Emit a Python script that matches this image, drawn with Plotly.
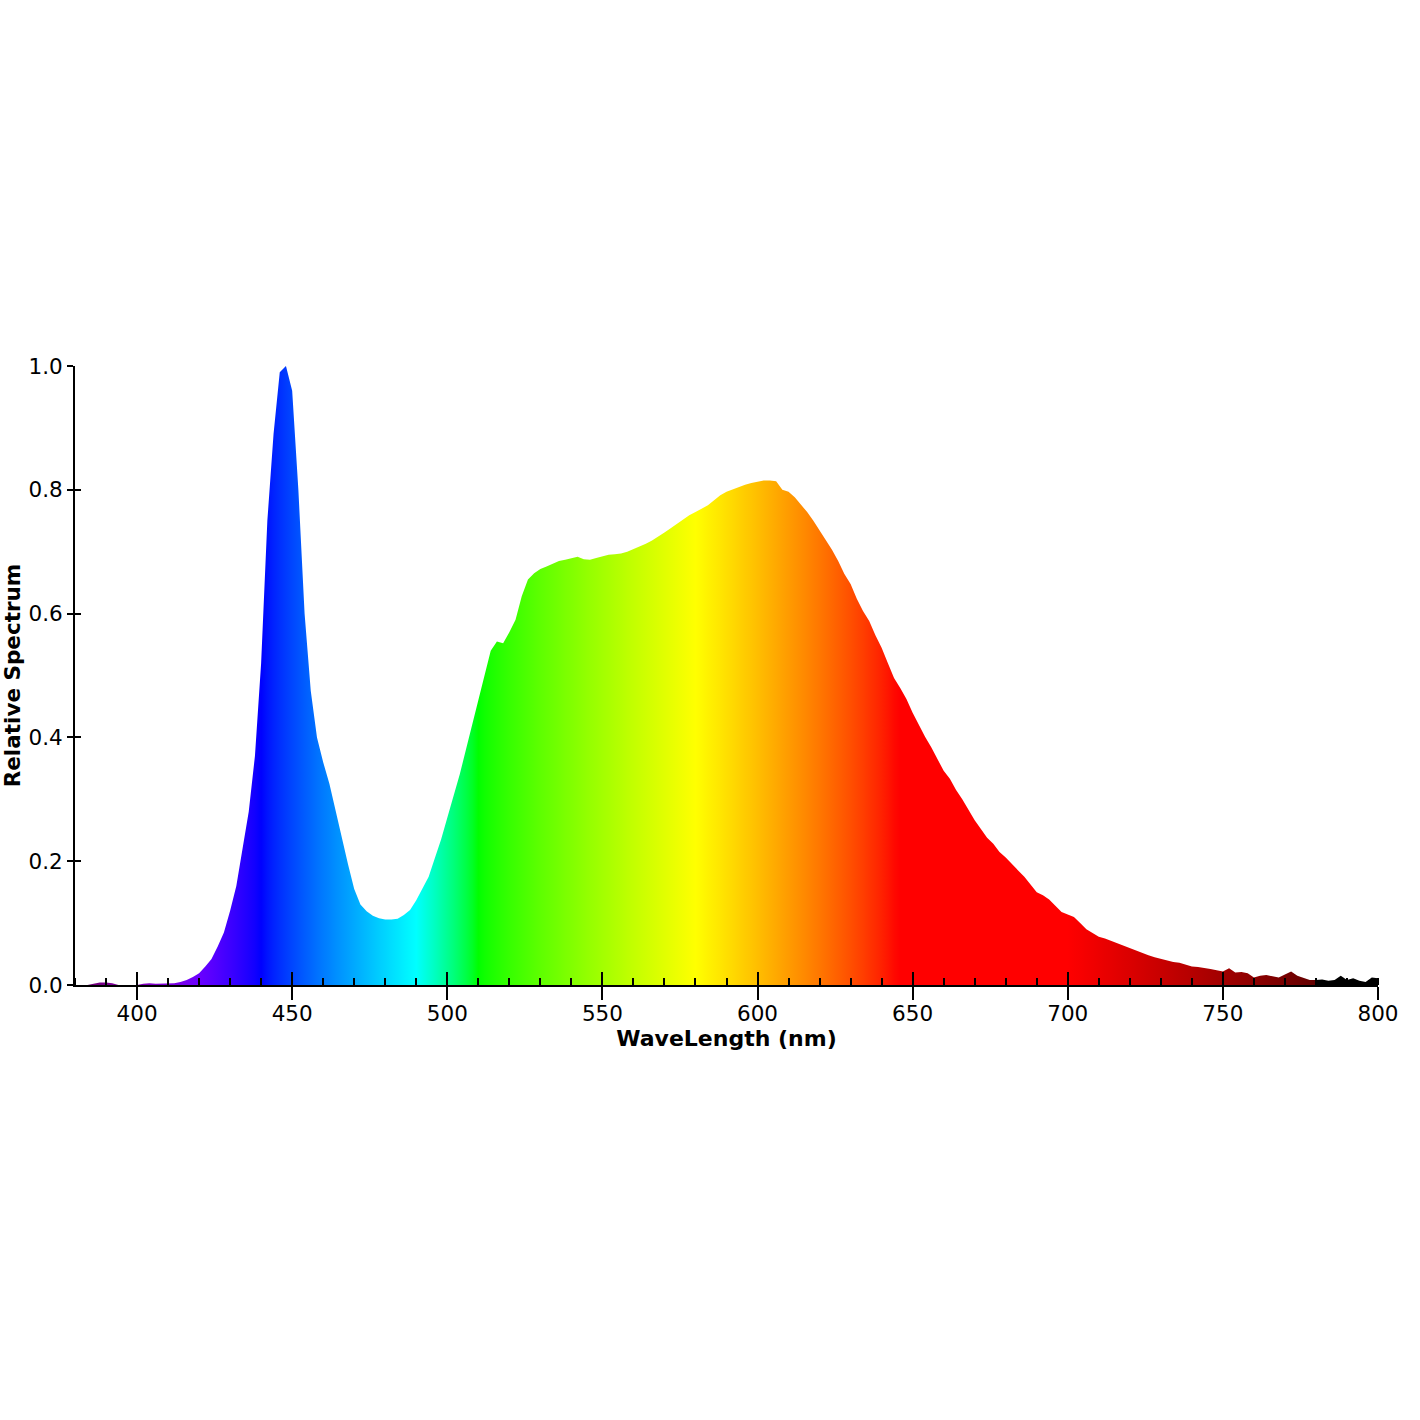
import plotly.graph_objects as go

# ---- data ----
wavelength = list(range(380, 802, 2))
relative_spectrum = [
    0.000, 0.000, 0.000, 0.002, 0.004, 0.004, 0.003, 0.000, 0.000, 0.000,  # 380-398
    0.000, 0.002, 0.003, 0.002, 0.002, 0.002, 0.003, 0.005, 0.008, 0.013,  # 400-418
    0.019, 0.030, 0.042, 0.062, 0.085, 0.120, 0.160, 0.220, 0.280, 0.370,  # 420-438
    0.520, 0.750, 0.890, 0.990, 1.000, 0.960, 0.800, 0.600, 0.475, 0.400,  # 440-458
    0.360, 0.325, 0.280, 0.240, 0.195, 0.155, 0.130, 0.119, 0.112, 0.108,  # 460-478
    0.106, 0.106, 0.107, 0.113, 0.121, 0.137, 0.155, 0.175, 0.205, 0.235,  # 480-498
    0.270, 0.305, 0.340, 0.380, 0.420, 0.460, 0.500, 0.540, 0.555, 0.552,  # 500-518
    0.570, 0.590, 0.628, 0.655, 0.665, 0.672, 0.676, 0.680, 0.685, 0.687,  # 520-538
    0.690, 0.692, 0.688, 0.687, 0.690, 0.693, 0.695, 0.696, 0.697, 0.700,  # 540-558
    0.704, 0.708, 0.713, 0.718, 0.724, 0.731, 0.738, 0.745, 0.752, 0.759,  # 560-578
    0.764, 0.769, 0.775, 0.783, 0.791, 0.797, 0.801, 0.805, 0.808, 0.811,  # 580-598
    0.813, 0.815, 0.815, 0.814, 0.800, 0.797, 0.788, 0.776, 0.764, 0.750,  # 600-618
    0.735, 0.718, 0.703, 0.685, 0.664, 0.648, 0.624, 0.604, 0.588, 0.565,  # 620-638
    0.545, 0.520, 0.496, 0.480, 0.462, 0.440, 0.420, 0.401, 0.384, 0.365,  # 640-658
    0.346, 0.333, 0.315, 0.300, 0.282, 0.266, 0.252, 0.238, 0.228, 0.215,  # 660-678
    0.206, 0.195, 0.185, 0.175, 0.162, 0.150, 0.145, 0.138, 0.128, 0.118,  # 680-698
    0.114, 0.110, 0.100, 0.090, 0.084, 0.078, 0.075, 0.071, 0.067, 0.064,  # 700-718
    0.060, 0.056, 0.052, 0.048, 0.045, 0.042, 0.039, 0.037, 0.036, 0.033,  # 720-738
    0.030, 0.029, 0.028, 0.026, 0.024, 0.022, 0.027, 0.020, 0.021, 0.019,  # 740-758
    0.012, 0.015, 0.016, 0.014, 0.012, 0.017, 0.022, 0.015, 0.011, 0.008,  # 760-778
    0.008, 0.009, 0.007, 0.008, 0.015, 0.008, 0.011, 0.007, 0.005, 0.012,  # 780-798
    0.011,                                                                  # 800
]
x_tick_values = [400, 450, 500, 550, 600, 650, 700, 750, 800]
y_tick_values = [0.0, 0.2, 0.4, 0.6, 0.8, 1.0]

X_MIN, X_MAX = 380, 800


def wl_to_rgb(w):
    """Visible-spectrum colour for a wavelength (style only)."""
    if 380 <= w < 440:
        r, g, b = -(w - 440) / 60.0, 0.0, 1.0
    elif 440 <= w < 490:
        r, g, b = 0.0, (w - 440) / 50.0, 1.0
    elif 490 <= w < 510:
        r, g, b = 0.0, 1.0, -(w - 510) / 20.0
    elif 510 <= w < 580:
        r, g, b = (w - 510) / 70.0, 1.0, 0.0
    elif 580 <= w < 645:
        r, g, b = 1.0, -(w - 645) / 65.0, 0.0
    elif 645 <= w <= 780:
        r, g, b = 1.0, 0.0, 0.0
    else:
        r, g, b = 0.0, 0.0, 0.0
    if 380 <= w < 420:
        f = 0.3 + 0.7 * (w - 380) / 40.0
    elif 420 <= w < 700:
        f = 1.0
    elif 700 <= w <= 780:
        f = 0.3 + 0.7 * (780 - w) / 80.0
    else:
        f = 0.0
    conv = lambda c: int(round(255 * ((c * f) ** 0.8))) if c * f > 0 else 0
    return f"rgb({conv(r)},{conv(g)},{conv(b)})"


stops = list(range(380, 781, 2)) + [780.5, 800]
colorscale = [[(s - X_MIN) / (X_MAX - X_MIN), wl_to_rgb(s)] for s in stops]

fig = go.Figure()
fig.add_trace(go.Scatter(
    x=wavelength, y=relative_spectrum, mode="lines",
    line=dict(width=0, color="rgba(0,0,0,0)"),
    fill="tozeroy",
    fillgradient=dict(type="horizontal", colorscale=colorscale,
                      start=X_MIN, stop=X_MAX),
    hoverinfo="x+y", showlegend=False,
))
# invisible trace to activate the overlay axes (inner halves of ticks)
fig.add_trace(go.Scatter(x=[X_MIN], y=[0], xaxis="x2", yaxis="y2",
                         mode="markers", marker=dict(opacity=0),
                         showlegend=False, hoverinfo="skip"))

font = dict(family="DejaVu Sans, Verdana, sans-serif", size=21, color="black")

fig.update_layout(
    width=1420, height=1420, autosize=False,
    margin=dict(l=75, r=42, t=366, b=435, pad=0),
    paper_bgcolor="white", plot_bgcolor="white",
    font=font,
    xaxis=dict(
        range=[X_MIN, X_MAX], tickvals=x_tick_values,
        ticktext=[str(v) for v in x_tick_values],
        ticks="outside", ticklen=13, tickwidth=2, tickcolor="black",
        showline=True, linecolor="black", linewidth=2,
        showgrid=False, zeroline=False,
        minor=dict(dtick=10, tick0=0, ticks="inside", ticklen=7,
                   tickwidth=1.5, tickcolor="black", showgrid=False),
        title=dict(text="<b>WaveLength (nm)</b>", standoff=2,
                   font=dict(size=22)),
        tickfont=dict(size=21.5), ticklabelstandoff=-5, automargin=False,
    ),
    xaxis2=dict(
        range=[X_MIN, X_MAX], overlaying="x", anchor="y", side="bottom",
        tickvals=x_tick_values, ticks="inside", ticklen=13, tickwidth=2,
        tickcolor="black", showticklabels=False, showline=False,
        showgrid=False, zeroline=False,
    ),
    yaxis=dict(
        range=[0, 1.0], tickvals=y_tick_values,
        ticktext=[f"{v:.1f}" for v in y_tick_values],
        ticks="outside", ticklen=6, tickwidth=2, tickcolor="black",
        showline=True, linecolor="black", linewidth=2,
        showgrid=False, zeroline=False,
        title=dict(text="<b>Relative Spectrum</b>", standoff=6,
                   font=dict(size=21.5)),
        tickfont=dict(size=21.5), automargin=False,
    ),
    yaxis2=dict(
        range=[0, 1.0], overlaying="y", anchor="x", side="left",
        tickvals=y_tick_values, ticks="inside", ticklen=6, tickwidth=2,
        tickcolor="black", showticklabels=False, showline=False,
        showgrid=False, zeroline=False,
    ),
)

fig.write_html("out.html")
